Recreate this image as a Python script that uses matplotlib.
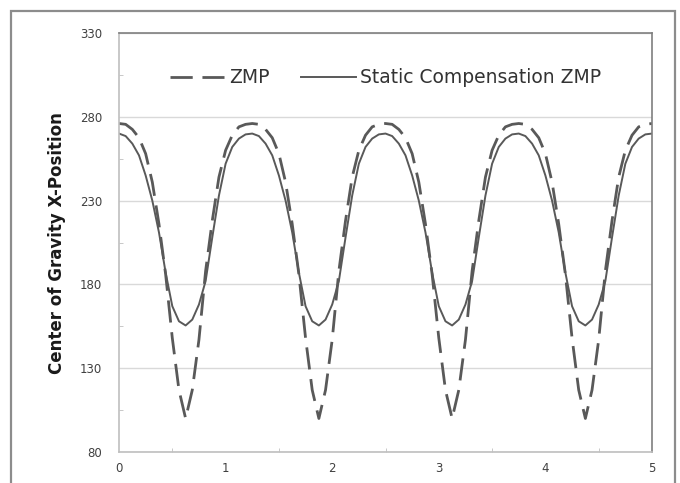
import numpy as np
import matplotlib
matplotlib.use('Agg')
import matplotlib.pyplot as plt
from matplotlib.patches import Rectangle

# sample times (s), one reading every 1/16 of a second-ish step
t = np.linspace(0, 5, 81)

# ZMP (dashed), four identical cycles
zmp = [276, 275.5, 272.5, 267.5, 258, 241, 216, 186, 148, 117,
       100, 117, 147, 188, 218, 244, 260, 269, 274, 275.5,
       276, 275.5, 272.5, 267.5, 258, 241, 216, 186, 148, 117,
       100, 117, 147, 188, 218, 244, 260, 269, 274, 275.5,
       276, 275.5, 272.5, 267.5, 258, 241, 216, 186, 148, 117,
       100, 117, 147, 188, 218, 244, 260, 269, 274, 275.5,
       276, 275.5, 272.5, 267.5, 258, 241, 216, 186, 148, 117,
       100, 117, 147, 188, 218, 244, 260, 269, 274, 275.5,
       276]

# static compensation ZMP (solid)
static_zmp = [270, 268.5, 264, 257, 245, 230, 211, 187, 167, 158,
              155.5, 159, 168, 182, 208, 233, 252, 262, 267, 269.5,
              270, 268.5, 264, 257, 245, 230, 211, 187, 167, 158,
              155.5, 159, 168, 182, 208, 233, 252, 262, 267, 269.5,
              270, 268.5, 264, 257, 245, 230, 211, 187, 167, 158,
              155.5, 159, 168, 182, 208, 233, 252, 262, 267, 269.5,
              270, 268.5, 264, 257, 245, 230, 211, 187, 167, 158,
              155.5, 159, 168, 182, 208, 233, 252, 262, 267, 269.5,
              270]

x_ticks = [0, 1, 2, 3, 4, 5]
y_ticks = [80, 130, 180, 230, 280, 330]

line_col = '#595959'

fig = plt.figure(figsize=(6.8, 4.83), dpi=100)
# outer frame of the figure (runs off the bottom edge)
fig.patches.append(Rectangle((11 / 680, -0.02), 664 / 680, 1 - 11 / 483 + 0.02,
                             transform=fig.transFigure, fill=False,
                             edgecolor='#8c8c8c', linewidth=1.6))

ax = fig.add_axes([119 / 680, 31 / 483, 533 / 680, 419 / 483])

ax.plot(t, zmp, color=line_col, linewidth=2.0, dashes=(8, 3.5), label='ZMP')
ax.plot(t, static_zmp, color=line_col, linewidth=1.4, label='Static Compensation ZMP')

ax.set_xlim(0, 5)
ax.set_ylim(80, 330)
ax.set_xticks(x_ticks)
ax.set_yticks(y_ticks)
ax.set_xticks(np.arange(0.5, 5, 1.0), minor=True)
ax.set_yticks(np.arange(105, 330, 50), minor=True)
ax.tick_params(axis='both', which='major', length=0, labelsize=8.5, labelcolor='#404040')
ax.tick_params(axis='y', which='major', pad=12)
ax.tick_params(axis='x', which='major', pad=7)
ax.tick_params(axis='both', which='minor', length=3, direction='in', color='#bfbfbf')

ax.grid(axis='y', which='major', color='#d9d9d9', linewidth=1.0)
ax.set_axisbelow(True)

for side in ['left', 'bottom']:
    ax.spines[side].set_color('#bfbfbf')
    ax.spines[side].set_linewidth(1.2)
for side in ['top', 'right']:
    ax.spines[side].set_color('#7f7f7f')
    ax.spines[side].set_linewidth(1.2)

fig.text(57 / 680, 1 - 243 / 483, 'Center of Gravity X-Position', rotation=90,
         ha='center', va='center', fontsize=12, fontweight='bold', color='#1a1a1a')

ax.legend(loc='center', bbox_to_anchor=(0.5, 0.893), ncol=2, frameon=False,
          fontsize=13.5, handlelength=2.9, handletextpad=0.25, columnspacing=1.7,
          labelcolor='#333333')

fig.savefig('out.png', dpi=100)
